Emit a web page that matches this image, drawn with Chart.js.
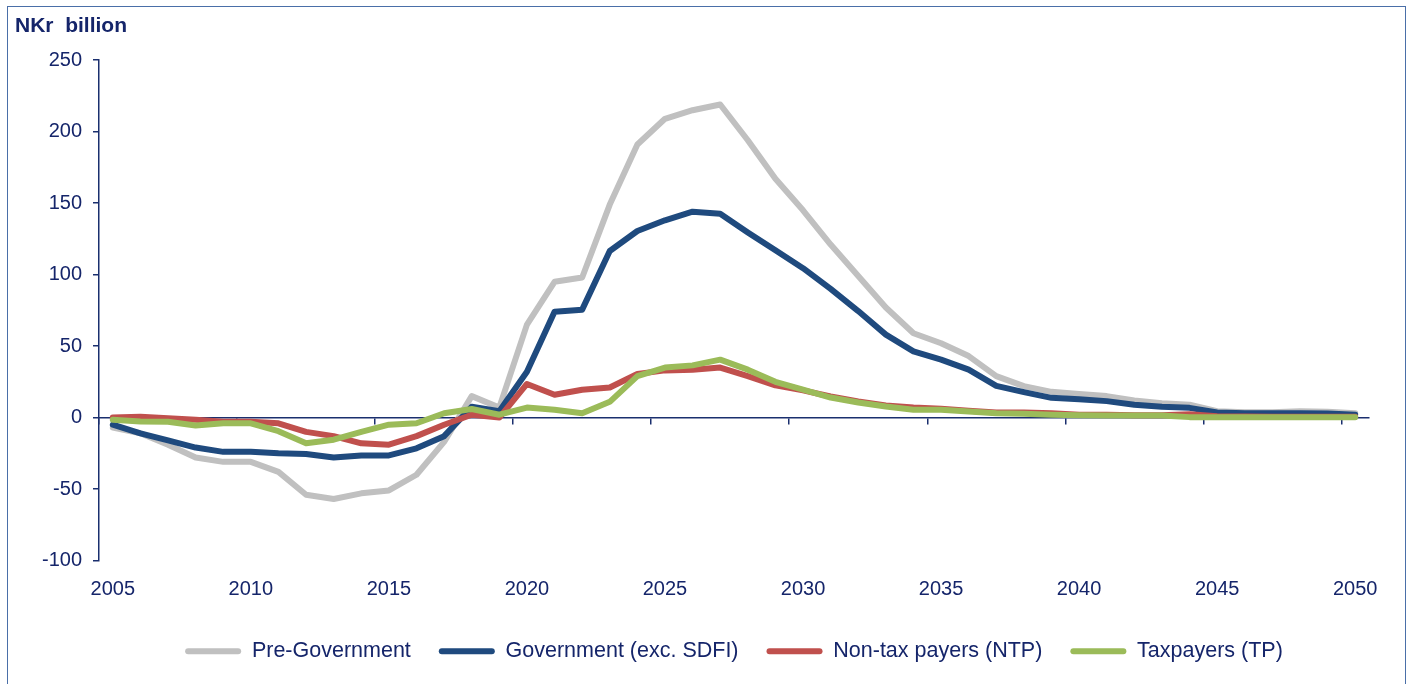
<!DOCTYPE html>
<html>
<head>
<meta charset="utf-8">
<script src="https://cdn.jsdelivr.net/npm/chart.js@4/dist/chart.umd.min.js"></script>
<style>
  html, body { margin: 0; padding: 0; background: #fff; }
  #wrap { position: relative; width: 1410px; height: 684px; overflow: hidden; }
  #frame { position: absolute; left: 7px; top: 6px; width: 1397px; height: 700px;
           border: 1px solid #4a6fa8; pointer-events: none; }
  canvas { position: absolute; left: 0; top: 0; }
</style>
</head>
<body>
<div id="wrap">
  <canvas id="chart" width="1410" height="684"></canvas>
  <div id="frame"></div>
</div>
<script>
const years = [];
for (let y = 2005; y <= 2050; y++) years.push(String(y));

// NKr billion
const preGov = [-7, -11, -19, -28, -31, -31, -38, -54, -57, -53, -51, -40, -17, 15, 7,
  65, 95, 98, 149, 191, 209, 215, 219, 194, 167, 145, 121, 99, 77, 59,
  52, 43, 29, 22, 18, 16.5, 15, 12, 10, 9, 4.5, 3.7, 3.7, 4.5, 4, 3];
const gov = [-5, -11, -16, -21, -24, -24, -25, -25.5, -28, -26.5, -26.5, -21.5, -13, 7.5, 4.5,
  32, 74, 75.5, 116.5, 130.5, 138, 144, 142.5, 129.5, 117, 104.5, 90, 74.5, 58, 46.3,
  40.5, 33.5, 22.2, 17.8, 13.8, 12.8, 11.5, 9, 7.5, 6.8, 3.5, 3, 3, 3, 2.8, 2];
const ntp = [0, 0.5, -0.5, -1.5, -3, -3, -4, -10, -13, -18, -19, -13, -5, 2, 0,
  23.5, 16, 19.5, 21, 30.5, 33, 33.5, 35, 29, 22.5, 19, 14.7, 11.2, 8.4, 7,
  6.1, 4.7, 3.5, 3.5, 3, 1.9, 2, 1.6, 1.6, 2.3, 1, 0.7, 0.5, 0.5, 0.5, 0.5];
const tp = [-1.5, -2.8, -3, -5.5, -4, -4, -9.5, -18, -15.5, -10, -5, -4, 3, 6, 2,
  7, 5.4, 3, 11, 29, 35, 36.5, 40.5, 33.5, 25, 19.5, 14, 10.5, 7.7, 5.4,
  5.4, 4.2, 3, 2.6, 1.9, 1.6, 1.5, 1.5, 1.5, 0.3, 0.2, 0.2, 0.2, 0.2, 0.2, 0.2];

const yTicks = [250, 200, 150, 100, 50, 0, -50, -100];

const navy = '#15256a';
const axisCol = '#1a2f6e';
const font = 'Liberation Sans, Arial, sans-serif';

function line(label, data, color, order) {
  return {
    label: label,
    data: data,
    borderColor: color,
    backgroundColor: color,
    borderWidth: 6,
    pointRadius: 0,
    tension: 0,
    borderJoinStyle: 'round',
    borderCapStyle: 'round',
    order: order
  };
}

const ctx = document.getElementById('chart').getContext('2d');

new Chart(ctx, {
  type: 'line',
  data: {
    labels: years,
    datasets: [
      line('Pre-Government', preGov, '#c0c0c0', 4),
      line('Government (exc. SDFI)', gov, '#1f4a7e', 3),
      line('Non-tax payers (NTP)', ntp, '#c0504d', 2),
      line('Taxpayers (TP)', tp, '#9bbb59', 1)
    ]
  },
  options: {
    responsive: false,
    animation: false,
    events: [],
    layout: { padding: { left: 15, right: 41, top: 0, bottom: 12 } },
    plugins: {
      title: {
        display: true,
        text: 'NKr  billion',
        align: 'start',
        color: navy,
        font: { family: font, size: 21, weight: 'bold' },
        padding: { top: 14, bottom: 21 }
      },
      legend: {
        position: 'bottom',
        fullSize: false,
        labels: {
          color: navy,
          font: { family: font, size: 21.5 },
          boxWidth: 56,
          boxHeight: 6,
          padding: 28,
          useBorderRadius: true,
          sort: (a, b) => a.datasetIndex - b.datasetIndex,
          generateLabels: chart =>
            Chart.defaults.plugins.legend.labels.generateLabels(chart)
              .map(l => Object.assign(l, { lineWidth: 0, borderRadius: 3 }))
        }
      },
      tooltip: { enabled: false }
    },
    scales: {
      x: {
        type: 'category',
        offset: true,
        afterFit: s => { s.height = 52; },
        grid: { display: false, drawTicks: false },
        border: { display: false },
        ticks: {
          color: navy,
          font: { family: font, size: 20 },
          autoSkip: false,
          maxRotation: 0,
          padding: 17,
          callback: (v, i) => (i % 5 === 0 ? years[i] : '')
        }
      },
      x2: {
        type: 'category',
        axis: 'x',
        position: { y: 0 },
        offset: true,
        grid: {
          offset: true,
          drawOnChartArea: false,
          tickLength: 6,
          lineWidth: 1.5,
          color: c => (c.index % 5 === 0 ? axisCol : 'rgba(0,0,0,0)')
        },
        border: { color: axisCol, width: 1.5 },
        ticks: { display: false }
      },
      y: {
        min: -100,
        max: 250,
        afterFit: s => { s.width = 84; },
        afterBuildTicks: s => { s.ticks = yTicks.map(v => ({ value: v })); },
        grid: { drawOnChartArea: false, tickLength: 6, color: axisCol, lineWidth: 1.5 },
        border: { color: axisCol, width: 1.5 },
        ticks: {
          color: navy,
          font: { family: font, size: 20 },
          padding: 11
        }
      }
    }
  }
});
</script>
</body>
</html>
